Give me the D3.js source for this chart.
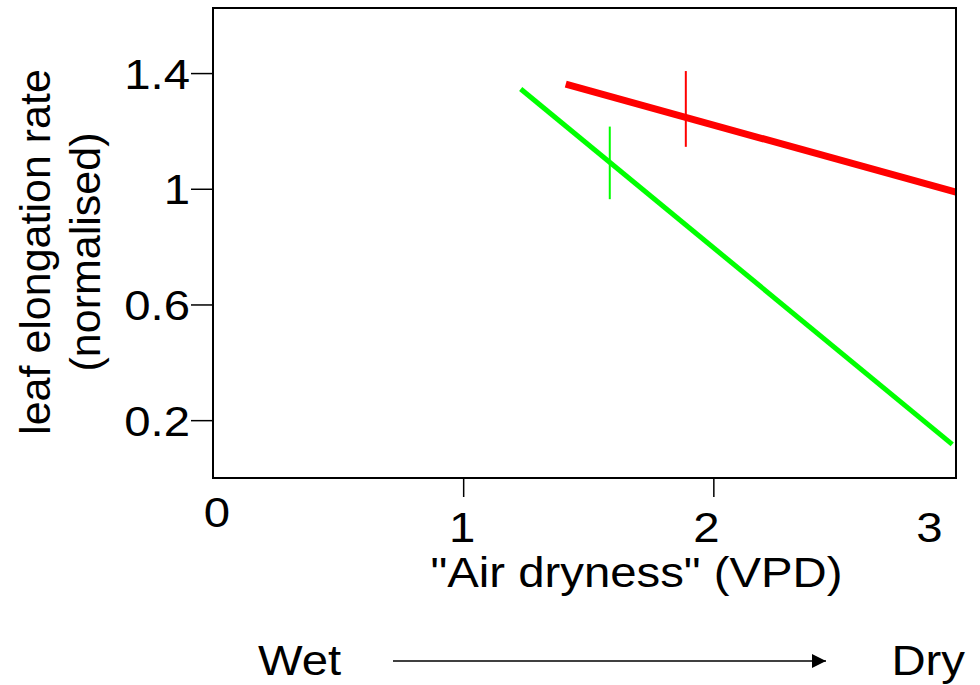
<!DOCTYPE html>
<html lang="en">
<head>
  <meta charset="UTF-8" />
  <title>Leaf elongation vs air dryness</title>
  <script src="https://d3js.org/d3.v7.min.js"></script>
  <style>
    body { margin: 0; background: #fff; }
    svg { display: block; font-family: "Liberation Sans", Arial, sans-serif; }
  </style>
</head>
<body>
  <svg id="chart" width="980" height="685"></svg>
  <script>
    // data
    const xTickMarks = [1, 2];
    const xTickLabels = [0, 1, 2, 3];
    const yTicks = [0.2, 0.6, 1, 1.4];

    const redLine = [{ x: 1.41, y: 1.362 }, { x: 2.97, y: 0.988 }];
    const greenLine = [{ x: 1.23, y: 1.345 }, { x: 2.955, y: 0.1165 }];
    const redError = { x: 1.89, lo: 1.145, hi: 1.407 };
    const greenError = { x: 1.586, lo: 0.964, hi: 1.215 };

    const svg = d3.select('#chart');
    const plotLeft = 213, plotRight = 956, plotTop = 8, plotBottom = 478;
    const stretch = 1.1; // text in the original is a bit wide

    const x = d3.scaleLinear().domain([0, 2.97]).range([plotLeft, plotRight]);
    const y = d3.scaleLinear().domain([0, 1.625]).range([plotBottom, plotTop]);

    // series
    const line = d3.line().x(d => x(d.x)).y(d => y(d.y));
    svg.append('path').datum(greenLine)
      .attr('d', line).attr('fill', 'none')
      .attr('stroke', '#00ff00').attr('stroke-width', 5);
    svg.append('path').datum(redLine)
      .attr('d', line).attr('fill', 'none')
      .attr('stroke', '#ff0000').attr('stroke-width', 7);

    [[greenError, '#00ff00'], [redError, '#ff0000']].forEach(([e, c]) => {
      svg.append('line')
        .attr('x1', x(e.x)).attr('x2', x(e.x))
        .attr('y1', y(e.hi)).attr('y2', y(e.lo))
        .attr('stroke', c).attr('stroke-width', 2);
    });

    // frame
    svg.append('rect')
      .attr('x', plotLeft).attr('y', plotTop)
      .attr('width', plotRight - plotLeft).attr('height', plotBottom - plotTop)
      .attr('fill', 'none').attr('stroke', '#000').attr('stroke-width', 2);

    // y axis
    const yAxis = svg.append('g')
      .attr('transform', `translate(${plotLeft},0)`)
      .call(d3.axisLeft(y).tickValues(yTicks).tickSize(22).tickFormat(d3.format('')));
    yAxis.select('.domain').remove();
    yAxis.selectAll('.tick line').attr('stroke', '#000').attr('stroke-width', 1.5);
    yAxis.selectAll('.tick text')
      .attr('x', null).attr('dy', null)
      .attr('transform', `translate(-23,15) scale(${stretch},1)`)
      .attr('font-size', 43).attr('fill', '#000')
      .attr('font-family', '"Liberation Sans", Arial, sans-serif');

    // x axis: tick marks only at 1 and 2
    const xAxis = svg.append('g')
      .attr('transform', `translate(0,${plotBottom})`)
      .call(d3.axisBottom(x).tickValues(xTickMarks).tickSize(19).tickFormat(''));
    xAxis.select('.domain').remove();
    xAxis.selectAll('.tick line').attr('stroke', '#000').attr('stroke-width', 1.5);

    const xNudge = { 0: [4, -15], 1: [-1, 0], 2: [-7, 0], 3: [-34, 0] };
    svg.append('g').selectAll('text')
      .data(xTickLabels)
      .join('text')
      .attr('transform', d => `translate(${x(d) + xNudge[d][0]},${542 + xNudge[d][1]}) scale(${stretch},1)`)
      .attr('text-anchor', 'middle')
      .attr('font-size', 43)
      .text(d => d);

    // titles
    svg.append('text')
      .attr('transform', `translate(${(430 + 843) / 2},587) scale(${stretch},1)`)
      .attr('text-anchor', 'middle').attr('font-size', 43)
      .text('"Air dryness" (VPD)');

    const yTitle = svg.append('g').attr('text-anchor', 'middle').attr('font-size', 43);
    yTitle.append('text')
      .attr('transform', 'translate(50,252) rotate(-90)')
      .text('leaf elongation rate');
    yTitle.append('text')
      .attr('transform', 'translate(100,252) rotate(-90)')
      .text('(normalised)');

    // Wet -> Dry arrow
    svg.append('defs').append('marker')
      .attr('id', 'head').attr('viewBox', '0 0 10 10')
      .attr('refX', 10).attr('refY', 5)
      .attr('markerWidth', 15).attr('markerHeight', 14)
      .attr('markerUnits', 'userSpaceOnUse')
      .attr('orient', 'auto')
      .append('path').attr('d', 'M0,0L10,5L0,10Z').attr('fill', '#000');

    svg.append('line')
      .attr('x1', 393).attr('x2', 826).attr('y1', 661).attr('y2', 661)
      .attr('stroke', '#000').attr('stroke-width', 1.5)
      .attr('marker-end', 'url(#head)');

    svg.append('text')
      .attr('transform', `translate(258,675) scale(${stretch},1)`)
      .attr('font-size', 43).text('Wet');
    svg.append('text')
      .attr('transform', `translate(965,675) scale(${stretch},1)`)
      .attr('text-anchor', 'end').attr('font-size', 43).text('Dry');
  </script>
</body>
</html>
